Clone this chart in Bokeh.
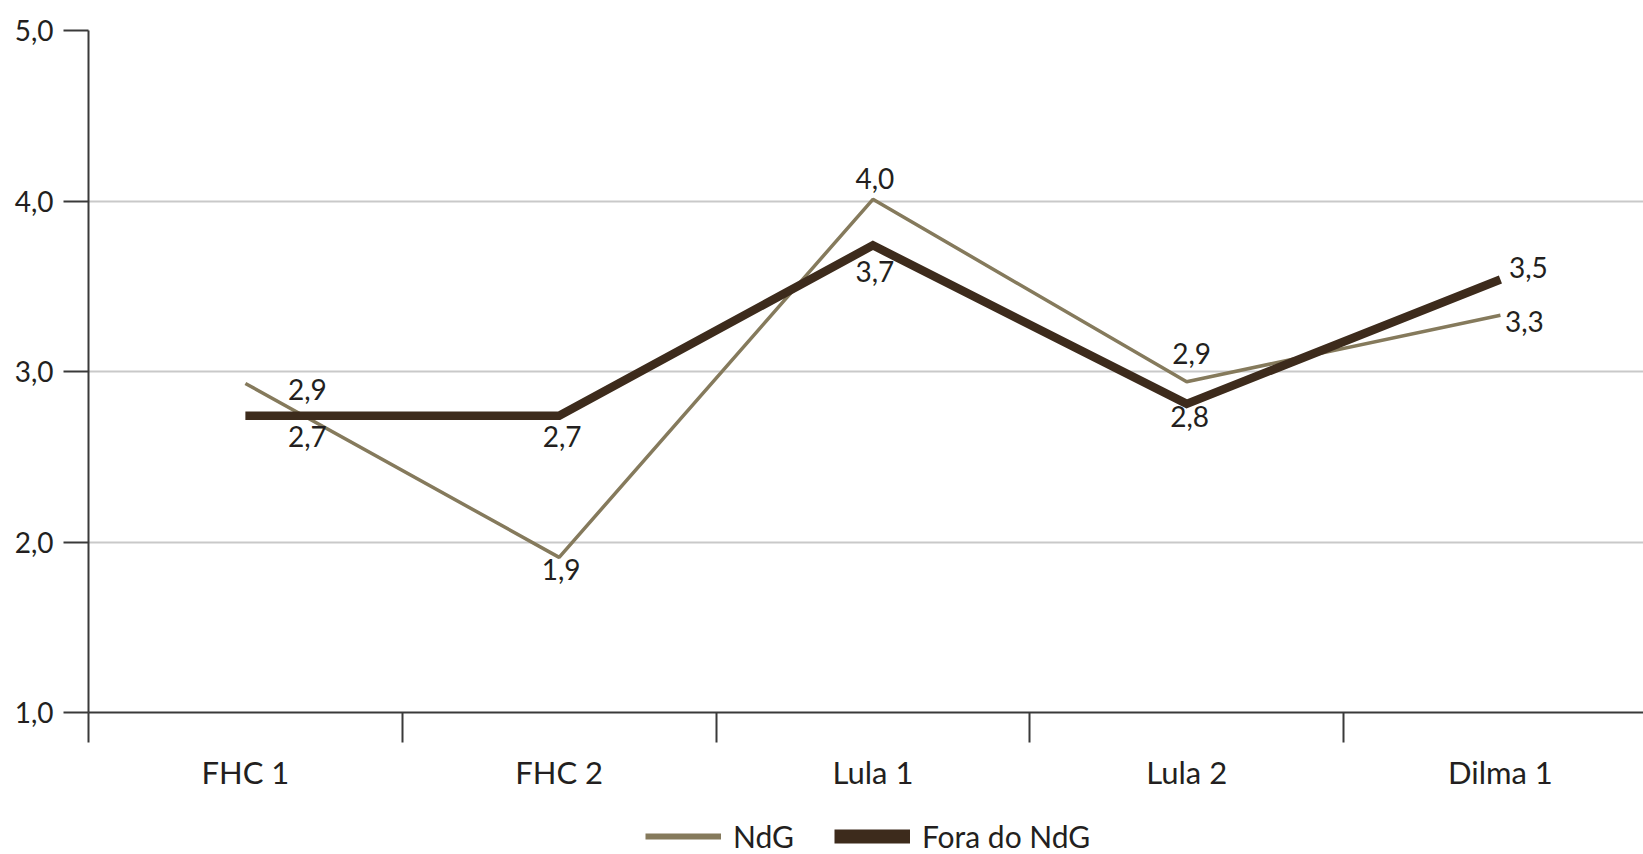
from bokeh.plotting import figure
from bokeh.layouts import column
from bokeh.models import (Range1d, FixedTicker, CustomJSTickFormatter, ColumnDataSource,
                          Legend, LegendItem)
from bokeh.core.properties import value
from bokeh.embed import file_html
from bokeh.resources import INLINE

# ---- data ----
categories = ["FHC 1", "FHC 2", "Lula 1", "Lula 2", "Dilma 1"]
ndg = [2.93, 1.91, 4.01, 2.94, 3.33]
fora_ndg = [2.74, 2.74, 3.74, 2.81, 3.54]
series_names = ["NdG", "Fora do NdG"]
y_ticks = [1, 2, 3, 4, 5]

# ---- styles ----
FONT = "Lato"
TXT = "#231f20"
C_NDG = "#857a5c"
C_FORA = "#3d2b1c"

# label offsets (pixels) per point: (dx, dy) screen units
ndg_off_x = [62, 2, 2, 5, 24]
ndg_off_y = [6, 12, -21, -28, 6]
fora_off_x = [62, 3, 2, 3, 28]
fora_off_y = [21, 21, 26, 13, -12]

x_pos = [i + 0.5 for i in range(len(categories))]
fmt = lambda v: f"{v:.1f}".replace(".", ",")

p = figure(width=1643, height=800, output_backend="svg", toolbar_location=None,
           x_range=Range1d(0, 4.956), y_range=Range1d(1, 5),
           min_border_left=88, min_border_right=0, min_border_top=30,
           min_border_bottom=88)
p.outline_line_color = None
p.background_fill_color = "white"
p.border_fill_color = "white"

# y axis
yax = p.yaxis[0]
yax.ticker = FixedTicker(ticks=y_ticks, minor_ticks=[])
yax.formatter = CustomJSTickFormatter(code="return tick.toFixed(1).replace('.', ',');")
yax.major_tick_out = 25
yax.major_tick_in = 0
yax.major_tick_line_width = 2
yax.major_tick_line_color = "#3a3a3a"
yax.axis_line_width = 2
yax.axis_line_color = "#3a3a3a"
yax.major_label_standoff = 10
yax.major_label_text_font = FONT
yax.major_label_text_font_size = "28px"
yax.major_label_text_color = TXT

# x axis
xax = p.xaxis[0]
xax.ticker = FixedTicker(ticks=x_pos, minor_ticks=[i for i in range(len(categories) + 1)])
xax.major_label_overrides = {x: c for x, c in zip(x_pos, categories)}
xax.major_tick_out = 0
xax.major_tick_in = 0
xax.minor_tick_out = 30
xax.minor_tick_in = 0
xax.minor_tick_line_width = 2
xax.minor_tick_line_color = "#3a3a3a"
xax.axis_line_width = 2
xax.axis_line_color = "#3a3a3a"
xax.major_label_standoff = 10
xax.major_label_text_font = FONT
xax.major_label_text_font_size = "31px"
xax.major_label_text_color = TXT

p.xgrid.visible = False
p.ygrid.ticker = FixedTicker(ticks=y_ticks[1:])
p.ygrid.grid_line_color = "#c9c9c9"
p.ygrid.grid_line_width = 2

# lines
p.line(x_pos, ndg, line_color=C_NDG, line_width=3.5)
p.line(x_pos, fora_ndg, line_color=C_FORA, line_width=8.5, line_join="miter")

# labels
src_n = ColumnDataSource(dict(x=x_pos, y=ndg, t=[fmt(v) for v in ndg], dx=ndg_off_x, dy=ndg_off_y))
src_f = ColumnDataSource(dict(x=x_pos, y=fora_ndg, t=[fmt(v) for v in fora_ndg], dx=fora_off_x, dy=fora_off_y))
for s in (src_n, src_f):
    p.text(x="x", y="y", text="t", x_offset="dx", y_offset="dy", source=s,
           text_font=value(FONT), text_font_size="28px", text_color=TXT,
           text_align="center", text_baseline="middle")

# legend strip below the chart (series drawn off-range so only the legend shows)
lf = figure(width=1643, height=54, output_backend="svg", toolbar_location=None,
            x_axis_type=None, y_axis_type=None, x_range=Range1d(0, 1), y_range=Range1d(-10, -9),
            min_border=0)
lf.outline_line_color = None
lf.grid.visible = False
r_leg_n = lf.line(x_pos, ndg, line_color=C_NDG, line_width=6)
r_leg_f = lf.line(x_pos, fora_ndg, line_color=C_FORA, line_width=14)
legend = Legend(items=[LegendItem(label=series_names[0], renderers=[r_leg_n]),
                       LegendItem(label=series_names[1], renderers=[r_leg_f])],
                orientation="horizontal", location=(557, 0),
                glyph_width=76, glyph_height=20, label_standoff=12, spacing=40,
                label_text_font=FONT, label_text_font_size="30px", label_text_color=TXT,
                border_line_color=None, background_fill_alpha=0, padding=0, margin=0)
lf.add_layout(legend, "center")

layout = column(p, lf, spacing=0)
open("out.html", "w").write(file_html(layout, INLINE))
